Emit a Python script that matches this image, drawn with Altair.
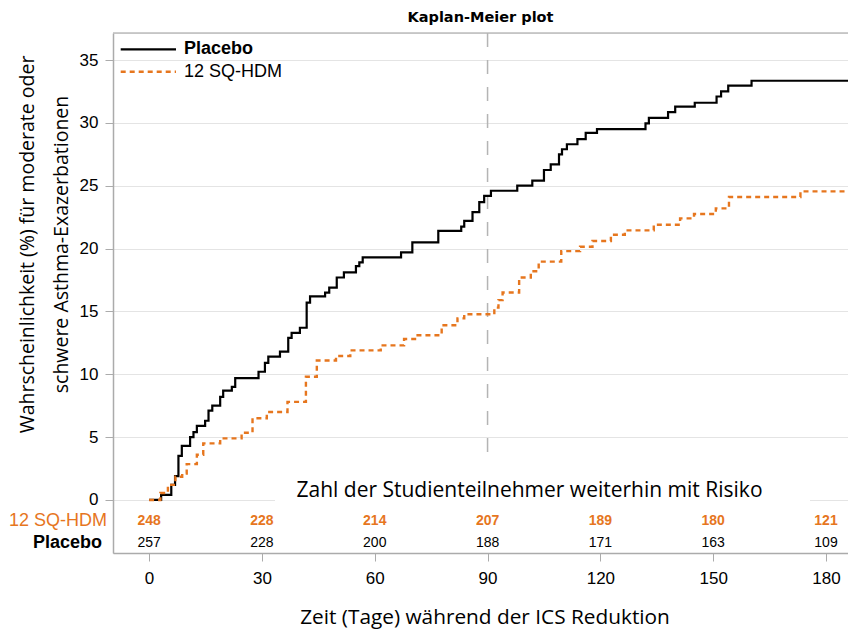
import altair as alt
import pandas as pd

# ---------------- data ----------------
series_names = ["Placebo", "12 SQ-HDM"]

placebo_days = [0, 3.2, 5.9, 6.9, 7.8, 8.7, 10.9, 11.8, 12.7, 14.9, 15.8, 16.8, 18.9, 19.7,
                22.0, 22.9, 29.1, 30.8, 31.7, 34.8, 37.0, 37.9, 40.1, 41.9, 42.8, 46.8,
                47.9, 49.9, 51.8, 55.0, 55.9, 56.8, 67.0, 70.0, 76.9, 83.0, 83.8, 86.0,
                87.8, 89.1, 90.9, 97.9, 101.9, 105.0, 106.8, 109.0, 109.8, 111.1, 113.9,
                116.1, 119.1, 132.0, 132.9, 138.0, 139.9, 145.1, 150.9, 152.1, 154.0, 160.2]
placebo_pct = [0, 0.4, 1.2, 1.9, 3.5, 4.3, 5.0, 5.4, 5.9, 6.3, 7.1, 7.5, 8.2, 8.7,
               9.0, 9.7, 10.2, 10.9, 11.4, 11.8, 12.9, 13.3, 13.7, 15.7, 16.2, 16.5,
               16.9, 17.7, 18.1, 18.6, 18.9, 19.3, 19.7, 20.5, 21.4, 21.75, 22.2, 22.9,
               23.7, 24.2, 24.6, 25.0, 25.4, 26.25, 26.7, 27.5, 27.9, 28.3, 28.7,
               29.2, 29.5, 29.96, 30.4, 30.85, 31.3, 31.6, 32.1, 32.5, 32.96, 33.35]

sq_days = [0, 3.0, 5.0, 7.0, 8.8, 10.0, 12.7, 14.4, 18.9, 24.6, 27.5, 31.3, 36.8, 41.7,
           44.6, 49.7, 53.5, 61.6, 67.8, 71.4, 77.8, 82.0, 83.8, 91.8, 92.9, 94.0, 98.4,
           101.5, 103.6, 109.6, 114.6, 117.9, 122.8, 126.5, 134.2, 141.2, 144.9, 150.7,
           154.2, 173.2]
sq_pct = [0, 0.55, 1.2, 1.85, 2.1, 2.85, 3.6, 4.5, 4.9, 5.35, 6.5, 7.0, 7.8, 9.8,
          11.1, 11.45, 11.9, 12.3, 12.8, 13.1, 13.9, 14.45, 14.77, 15.3, 15.9, 16.5, 17.7,
          18.2, 18.96, 19.8, 20.15, 20.6, 21.1, 21.45, 21.9, 22.4, 22.75, 23.2,
          24.1, 24.55]

risk_days = [0, 30, 60, 90, 120, 150, 180]
risk_sq = [248, 228, 214, 207, 189, 180, 121]
risk_placebo = [257, 228, 200, 188, 171, 163, 109]

x_ticks = [0, 30, 60, 90, 120, 150, 180]
y_ticks = [0, 5, 10, 15, 20, 25, 30, 35]
ref_day = [90]
x_domain = [-9.6, 185.85]
y_domain = [-4.22, 37.15]

ORANGE = "#E6761E"
GRAY = "#ABABAB"
W, H = 735, 520
TITLE_FONT = "Open Sans"


def step_frame(days, pct, name):
    return pd.DataFrame({"day": days + [x_domain[1]],
                         "pct": pct + [pct[-1]],
                         "series": name})


placebo_df = step_frame(placebo_days, placebo_pct, series_names[0])
sq_df = step_frame(sq_days, sq_pct, series_names[1])
risk_df = pd.DataFrame({"day": risk_days, "sq": risk_sq, "placebo": risk_placebo})
ref_df = pd.DataFrame({"day": ref_day})
leg_df = pd.DataFrame({"series": series_names})
one_df = pd.DataFrame({"label": ["Zahl der Studienteilnehmer weiterhin mit Risiko"]})

# ---------------- encodings ----------------
X = alt.X("day:Q", scale=alt.Scale(domain=x_domain, nice=False, zero=False),
          axis=alt.Axis(values=x_ticks, grid=False, domainColor=GRAY, domainWidth=1.5,
                        tickColor=GRAY, tickSize=8, labelFont="Liberation Sans",
                        labelFontSize=17, labelColor="black", labelPadding=9,
                        title="Zeit (Tage) während der ICS Reduktion", titleFont=TITLE_FONT,
                        titleFontSize=20.8, titleFontWeight="normal", titleColor="black",
                        titleX=371.5, titleY=70, titleAlign="center",
                        titleBaseline="alphabetic"))
Y = alt.Y("pct:Q", scale=alt.Scale(domain=y_domain, nice=False, zero=False),
          axis=alt.Axis(values=y_ticks, grid=True, gridColor="#E4E4E4", gridWidth=1,
                        domainColor=GRAY, domainWidth=1.5, tickColor=GRAY, tickSize=8,
                        labelFont="Liberation Sans", labelFontSize=17, labelColor="black",
                        labelPadding=7,
                        title=["Wahrscheinlichkeit (%) für moderate oder",
                               "schwere Asthma-Exazerbationen"],
                        titleFont=TITLE_FONT, titleFontSize=19.5, titleFontWeight="normal",
                        titleColor="black", titleAngle=270, titleX=-80, titleY=211,
                        titleAlign="center", titleBaseline="alphabetic",
                        titleLineHeight=34))

# ---------------- layers ----------------
top_border = alt.Chart(one_df).mark_rule(color="#BDBDBD", strokeWidth=1.5).encode(
    x=alt.value(0), x2=alt.value(W), y=alt.value(0))

ref_line = alt.Chart(ref_df).mark_rule(color="#B4B4B4", strokeWidth=1.5,
                                       strokeDash=[14, 13]).encode(
    x=X, y=alt.value(0), y2=alt.value(430))

white_box = alt.Chart(one_df).mark_rect(color="white").encode(
    x=alt.value(162), x2=alt.value(697), y=alt.value(432), y2=alt.value(478))

risk_title = alt.Chart(one_df).mark_text(font=TITLE_FONT, fontSize=21, color="black",
                                         align="center", baseline="middle").encode(
    x=alt.value(416.5), y=alt.value(458), text="label:N")

placebo_line = alt.Chart(placebo_df).mark_line(interpolate="step-after", color="black",
                                               strokeWidth=2.2).encode(x=X, y=Y)
sq_line = alt.Chart(sq_df).mark_line(interpolate="step-after", color=ORANGE,
                                     strokeWidth=2.4, strokeDash=[5, 4]).encode(x=X, y=Y)

risk_sq_text = alt.Chart(risk_df).mark_text(font="Liberation Sans", fontSize=14,
                                            fontWeight="bold", color=ORANGE,
                                            baseline="middle").encode(
    x=X, y=alt.value(488), text="sq:Q")
risk_pl_text = alt.Chart(risk_df).mark_text(font="Liberation Sans", fontSize=14,
                                            color="black", baseline="middle").encode(
    x=X, y=alt.value(510), text="placebo:Q")

row_sq = alt.Chart(leg_df.iloc[[1]]).mark_text(font="Liberation Sans", fontSize=18,
                                               color=ORANGE, align="right",
                                               baseline="middle").encode(
    x=alt.value(-6), y=alt.value(488), text="series:N")
row_pl = alt.Chart(leg_df.iloc[[0]]).mark_text(font="Liberation Sans", fontSize=18,
                                               fontWeight="bold", color="black",
                                               align="right", baseline="middle").encode(
    x=alt.value(-11), y=alt.value(510), text="series:N")

leg_pl_line = alt.Chart(leg_df.iloc[[0]]).mark_rule(color="black", strokeWidth=2.2).encode(
    x=alt.value(7.7), x2=alt.value(63), y=alt.value(16.3))
leg_pl_text = alt.Chart(leg_df.iloc[[0]]).mark_text(font="Liberation Sans", fontSize=18,
                                                    fontWeight="bold", color="black",
                                                    align="left", baseline="middle").encode(
    x=alt.value(71), y=alt.value(16.3), text="series:N")
leg_sq_line = alt.Chart(leg_df.iloc[[1]]).mark_rule(color=ORANGE, strokeWidth=2.4,
                                                    strokeDash=[5, 4]).encode(
    x=alt.value(7.7), x2=alt.value(63), y=alt.value(38.7))
leg_sq_text = alt.Chart(leg_df.iloc[[1]]).mark_text(font="Liberation Sans", fontSize=18,
                                                    color="black", align="left",
                                                    baseline="middle").encode(
    x=alt.value(71), y=alt.value(38.7), text="series:N")

chart = alt.layer(
    top_border, ref_line, white_box, risk_title, placebo_line, sq_line,
    risk_sq_text, risk_pl_text, row_sq, row_pl,
    leg_pl_line, leg_pl_text, leg_sq_line, leg_sq_text,
).properties(
    width=W, height=H,
    title=alt.TitleParams("Kaplan-Meier plot", font="DejaVu Sans", fontSize=14.5,
                          fontWeight="bold", anchor="middle", offset=7, color="black"),
    autosize=alt.AutoSizeParams(type="none"),
    padding={"left": 105, "top": 25, "right": 0, "bottom": 80},
).configure_view(stroke=None).configure(background="white")

chart.save("out.html", embed_options={"renderer": "svg", "actions": False})
